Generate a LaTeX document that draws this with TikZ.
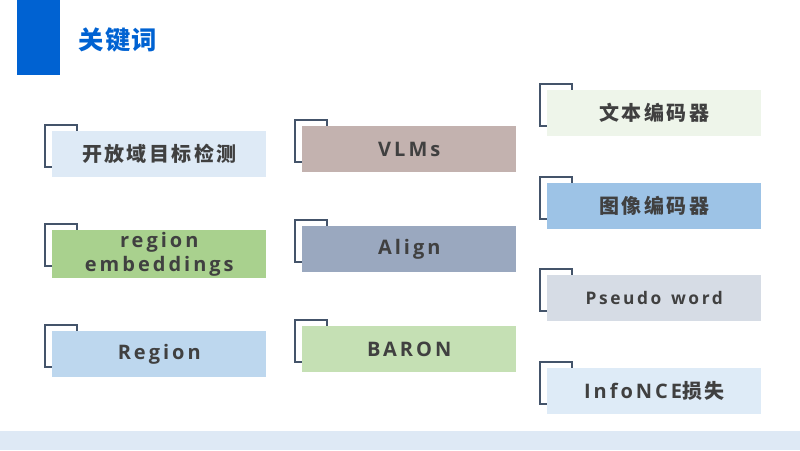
\documentclass[tikz,border=0pt]{standalone}
\usepackage{fontspec}
\usepackage{xcolor}
\usetikzlibrary{positioning,backgrounds}
\newfontfamily\latfont[LetterSpace=15]{Open Sans}
\newfontfamily\cjkfont[LetterSpace=12]{Noto Sans CJK SC}
\newfontfamily\titlefont[LetterSpace=5]{Noto Sans CJK SC}
\definecolor{headblue}{RGB}{0,98,210}
\definecolor{bandblue}{RGB}{222,233,245}
\definecolor{slate}{RGB}{68,84,106}
\definecolor{txtgray}{RGB}{64,64,64}
\definecolor{fillA}{RGB}{222,234,246}
\definecolor{fillB}{RGB}{169,209,142}
\definecolor{fillC}{RGB}{189,215,238}
\definecolor{fillD}{RGB}{195,178,175}
\definecolor{fillE}{RGB}{154,168,191}
\definecolor{fillF}{RGB}{197,224,180}
\definecolor{fillG}{RGB}{238,245,234}
\definecolor{fillH}{RGB}{157,195,230}
\definecolor{fillI}{RGB}{214,220,229}
\definecolor{fillJ}{RGB}{222,235,247}

\begin{document}
\begin{tikzpicture}[
    x=0.75pt, y=-0.75pt,
    kwbox/.style={rectangle, anchor=north west, minimum width=160.5pt,
                  minimum height=34.5pt, inner sep=0pt, align=center,
                  text=txtgray, font=\bfseries\fontsize{15}{18}\selectfont},
    corner/.style={draw=slate, line width=0.9pt},
]
\useasboundingbox (0,0) rectangle (800,450);

% header bar and title
\fill[headblue] (17,0) rectangle (60,75);
\node[text=headblue, font=\titlefont\bfseries\fontsize{19}{21}\selectfont] (title) at (118,40) {关键词};

% bottom band
\fill[bandblue] (0,431) rectangle (800,450);

% Left column
\node[kwbox, fill=fillA] (open) at (52,131) {\cjkfont 开放域目标检测};
\node[kwbox, fill=fillB] (emb) at (52,230)
  {\raisebox{-2.5pt}{\latfont\begin{tabular}{@{}c@{}}region\\embeddings\end{tabular}}};
\node[kwbox, fill=fillC] (reg) at (52,331) {\latfont Region};

% Middle column
\node[kwbox, fill=fillD] (vlm) at (302,126) {\latfont VLMs};
\node[kwbox, fill=fillE] (align) at (302,226) {\latfont Align};
\node[kwbox, fill=fillF] (baron) at (302,326) {\latfont BARON};

% Right column
\node[kwbox, fill=fillG] (txtenc) at (547,90) {\cjkfont 文本编码器};
\node[kwbox, fill=fillH] (imgenc) at (547,183) {\cjkfont 图像编码器};
\node[kwbox, fill=fillI, font=\bfseries\fontsize{13}{16}\selectfont] (pseudo) at (547,275)
  {\latfont Pseudo\hspace{0.55em}word};
\node[kwbox, fill=fillJ] (nce) at (547,368) {\latfont InfoNCE\cjkfont 损失};

% corner outlines behind the boxes
\begin{scope}[on background layer]
\foreach \n in {open,emb,reg,vlm,align,baron,txtenc,imgenc,pseudo,nce}
  \draw[corner] ([shift={(-5.25pt,4.5pt)}]\n.north west) rectangle ++(24pt,-31.5pt);
\end{scope}

\end{tikzpicture}
\end{document}
